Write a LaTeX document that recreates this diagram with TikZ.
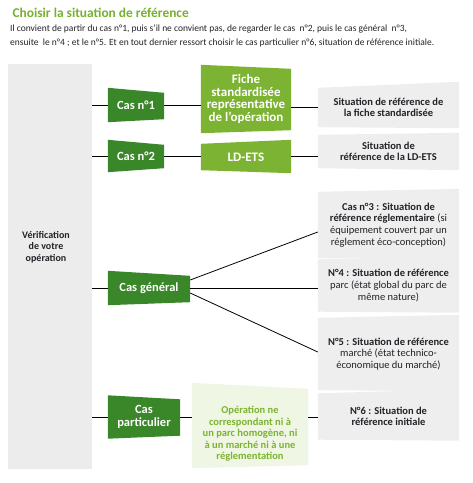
\documentclass[tikz,border=0pt]{standalone}
\usepackage{fontspec}
\setmainfont{Carlito}
\usepackage{tikz}
\usetikzlibrary{backgrounds}
\definecolor{casgreen}{RGB}{58,135,42}
\definecolor{fichegreen}{RGB}{124,179,50}
\definecolor{titlegreen}{RGB}{118,176,46}
\definecolor{opfill}{RGB}{240,246,228}
\definecolor{sitgrey}{RGB}{238,238,238}
\definecolor{panelgrey}{RGB}{236,236,236}
\definecolor{txtdark}{RGB}{35,35,40}
\tikzset{
  cas/.style={text=white, font=\bfseries\fontsize{12.5}{13.5}\selectfont, align=center, inner sep=0pt},
  fiche/.style={text=white, font=\bfseries\fontsize{13}{12.5}\selectfont, align=center, inner sep=0pt},
  sit/.style={text=txtdark, font=\fontsize{10.5}{11.8}\selectfont, align=center, inner sep=0pt, minimum width=141pt},
  link/.style={line width=0.8pt}
}

\begin{document}
\begin{tikzpicture}[x=1pt,y=-1pt]
  \useasboundingbox (0,0) rectangle (473,483);
  % title and intro
  \node[anchor=west, text=titlegreen, font=\bfseries\fontsize{13.4}{15}\selectfont] (title) at (9,13) {Choisir la situation de référence};
  \node[anchor=west, text=txtdark, align=left, inner sep=0pt, font=\fontsize{9.5}{14}\selectfont] (intro) at (10,36)
    {Il convient de partir du cas n°1, puis s’il ne convient pas, de regarder le cas~ n°2, puis le cas général~ n°3,\\
     ensuite~ le n°4 ; et le n°5. Et en tout dernier ressort choisir le cas particulier n°6, situation de référence initiale.};
  % left panel
  \node[fill=panelgrey, minimum width=84pt, minimum height=405pt, inner sep=0pt] (panel) at (50,266.5) {};
  \node[text=txtdark, align=center, inner sep=0pt, font=\bfseries\fontsize{10}{11.5}\selectfont] (verif) at (46,247) {Vérification\\de votre\\opération};
  % cases
  \node[cas, minimum width=56pt, minimum height=34pt] (c1) at (136,105) {Cas n°1};
  \node[cas, minimum width=56pt, minimum height=32pt] (c2) at (136,156) {Cas n°2};
  \node[cas, minimum width=82pt, minimum height=34pt] (cg) at (149,288) {Cas général};
  \node[cas, minimum width=72pt, minimum height=43pt] (cp) at (144,417) {Cas\\particulier};
  \node[fiche, minimum width=90pt, minimum height=68pt] (fiche) at (246,99) {Fiche\\standardisée\\représentative\\de l’opération};
  \node[fiche, minimum width=90pt, minimum height=26pt] (ldets) at (246,157) {LD-ETS};
  \node[text=fichegreen, align=center, inner sep=0pt, minimum width=116pt, minimum height=85pt,
        font=\bfseries\fontsize{10.5}{11.5}\selectfont] (op) at (250,425.5)
    {\rule{0pt}{24pt}Opération ne\\correspondant ni à\\un parc homogène, ni\\à un marché ni à une\\réglementation};
  % situations
  \node[sit, minimum height=39pt, font=\bfseries\fontsize{10.5}{11.5}\selectfont] (s1) at (388.5,107.5) {Situation de référence de\\la fiche standardisée};
  \node[sit, minimum height=33pt, font=\bfseries\fontsize{10.5}{11.5}\selectfont] (s2) at (388.5,151.5) {Situation de\\référence de la LD-ETS};
  \node[sit, minimum height=66pt] (s3) at (388.5,225) {\textbf{Cas n°3 : Situation de}\\\textbf{référence réglementaire} (si\\équipement couvert par un\\réglement éco-conception)};
  \node[sit, minimum height=52pt] (s4) at (388.5,285.5) {\textbf{N°4 : Situation de référence}\\parc (état global du parc de\\même nature)};
  \node[sit, minimum height=72pt] (s5) at (388.5,354) {\textbf{N°5 : Situation de référence}\\marché (état technico-\\économique du marché)};
  \node[sit, minimum height=46pt, font=\bfseries\fontsize{10.5}{11.5}\selectfont] (s6) at (388.5,416.5) {N°6 : Situation de\\référence initiale};
  % slanted fills behind the texts
  \begin{pgfonlayer}{background}
    \foreach \n/\a/\b/\c in {c1/5/3/casgreen, c2/5/4/casgreen, cg/5/3/casgreen, cp/4/3/casgreen,
                             fiche/4/3/fichegreen, ldets/-4/-3/fichegreen, op/6/3/opfill,
                             s1/-6/-1/sitgrey, s2/-2/-2/sitgrey, s3/-3/-1/sitgrey,
                             s4/-3/-1/sitgrey, s5/-3/-1/sitgrey, s6/-4/-1/sitgrey}
      \fill[\c] (\n.north west) -- ([yshift=-\a pt]\n.north east) -- ([yshift=\b pt]\n.south east) -- (\n.south west) -- cycle;
  \end{pgfonlayer}
  % connectors
  \draw[link] (panel.east |- c1) -- (c1.west);
  \draw[link] (panel.east |- c2) -- (c2.west);
  \draw[link] (panel.east |- cg) -- (cg.west);
  \draw[link] (panel.east |- cp) -- (cp.west);
  \draw[link] (c1.east) -- (c1.east -| fiche.west);
  \draw[link] (s1.west -| fiche.east) -- (s1.west);
  \draw[link] (c2.east) -- (c2.east -| ldets.west);
  \draw[link] (c2.east -| ldets.east) -- (c2.east -| s2.west);
  \draw[link] ([yshift=8pt]cg.east) -- ([yshift=-7pt]s3.west);
  \draw[link] (cg.east) -- (cg.east -| s4.west);
  \draw[link] ([yshift=-5pt]cg.east) -- ([yshift=2pt]s5.west);
  \draw[link] (cp.east) -- (cp.east -| op.west);
  \draw[link] (cp.east -| op.east) -- (cp.east -| s6.west);
\end{tikzpicture}
\end{document}
